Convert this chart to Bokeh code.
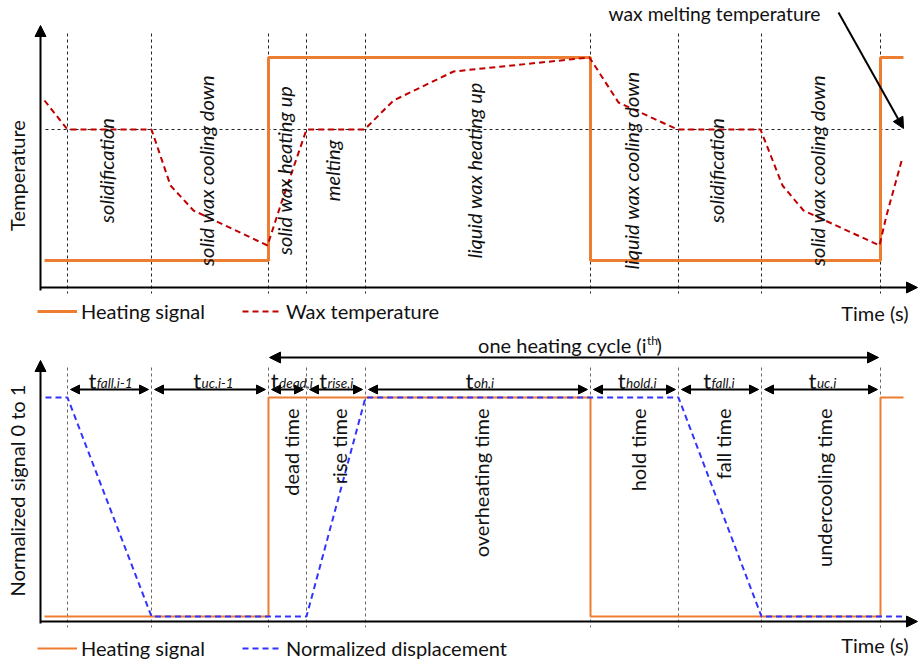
import math
from bokeh.plotting import figure
from bokeh.layouts import column
from bokeh.models import Range1d, Arrow, NormalHead, Label, Legend, LegendItem
from bokeh.core.properties import value
from bokeh.embed import file_html
from bokeh.resources import INLINE

FONT = "Lato"
FS = "20px"

# ---------------- data (schematic, arbitrary units) ----------------
phase_bounds = [2.7, 11.1, 22.8, 26.6, 32.5, 55.0, 63.8, 72.1, 84.0]
heat_switch_t = [0.4, 22.8, 55.0, 84.0, 86.3]
heat_state = [0, 1, 0, 1, 1]
heat_temp_low, heat_temp_high = 2.7, 23.0
melt_temp = 15.8
wax_t = [0.4, 2.7, 11.1, 13.0, 15.3, 22.7, 24.0, 26.6, 32.4, 35.3, 41.3,
         54.9, 57.8, 63.7, 72.0, 74.2, 76.3, 83.9, 84.6, 86.2]
wax_temp = [18.7, 15.8, 15.8, 10.2, 7.7, 4.2, 8.2, 15.8, 15.8, 18.7, 21.6,
            23.0, 18.5, 15.8, 15.8, 10.2, 7.7, 4.2, 7.2, 13.0]
top_phase_labels = ["solidification", "solid wax cooling down", "solid wax heating up",
                    "melting", "liquid wax heating up", "liquid wax cooling down",
                    "solidification", "solid wax cooling down"]
disp_t = [0.5, 2.7, 11.1, 26.6, 32.5, 63.8, 72.1, 86.3]
disp_val = [1, 1, 0, 0, 1, 1, 0, 0]
interval_subs = ["fall,i-1", "uc,i-1", "dead,i", "rise,i", "oh,i", "hold,i", "fall,i", "uc,i"]
interval_names = ["", "", "dead time", "rise time", "overheating time",
                  "hold time", "fall time", "undercooling time"]

# ---------------- helpers ----------------
W = 920
XR = (-4.0, 88.0)          # data units across the full width
PX = (XR[1] - XR[0]) / W   # data units per pixel (x)
intervals = list(zip(phase_bounds[:-1], phase_bounds[1:]))
centers = [(a + b) / 2 for a, b in intervals]


def base_fig(h, yr):
    p = figure(width=W, height=h, x_range=Range1d(*XR), y_range=Range1d(*yr),
               output_backend="svg", toolbar_location=None, min_border=0,
               x_axis_location=None, y_axis_location=None)
    p.grid.visible = False
    p.outline_line_color = None
    p.background_fill_color = "white"
    return p


def head(s=11):
    return NormalHead(size=s, fill_color="black", line_color="black")


def add_legend(p, rend, label, x, y):
    leg = Legend(items=[LegendItem(label=label, renderers=[rend])], location=(x, y),
                 orientation="horizontal", glyph_width=40, glyph_height=20,
                 label_height=20, label_standoff=4, padding=0, margin=0,
                 border_line_color=None, background_fill_alpha=0,
                 label_text_font=FONT, label_text_font_size=FS,
                 label_text_color="#111111")
    p.add_layout(leg)


# ================= TOP PANEL =================
TH = 328
TYR = (-4.1, 28.7)
top = base_fig(TH, TYR)

top.segment(x0=phase_bounds, x1=phase_bounds, y0=[25.4] * 9,
            y1=[-0.6] * 9, line_color="#222222", line_width=1, line_dash="3 3")
top.line(x=[0.5, 86.3], y=[melt_temp, melt_temp], line_color="#222222",
         line_width=1, line_dash="3 3")
r_heat_t = top.step(x=heat_switch_t,
                    y=[heat_temp_high if s else heat_temp_low for s in heat_state],
                    mode="after", line_color="#ED7D31", line_width=3)
r_wax = top.line(x=wax_t, y=wax_temp, line_color="#C00000", line_width=2,
                 line_dash="6 4")
top.add_layout(Arrow(end=head(), x_start=0, y_start=-0.3, x_end=0, y_end=26.2,
                     line_width=2, line_color="black"))
top.add_layout(Arrow(end=head(), x_start=0, y_start=0, x_end=87.7, y_end=0,
                     line_width=2, line_color="black"))
top.text(x=[c - 0.4 for c in centers], y=[11.7] * 8, text=top_phase_labels,
         angle=math.pi / 2, text_align="center", text_baseline="middle",
         text_font=value(FONT), text_font_style="italic", text_font_size=FS,
         text_color="#111111")
top.add_layout(Label(x=-2.4, y=11.2, text="Temperature", angle=math.pi / 2,
                     text_align="center", text_baseline="middle",
                     text_font=FONT, text_font_size=FS, text_color="#111111"))
top.add_layout(Label(x=86.8, y=-2.5, text="Time (s)", text_align="right",
                     text_baseline="middle", text_font=FONT, text_font_size=FS,
                     text_color="#111111"))
top.add_layout(Label(x=67.4, y=27.4, text="wax melting temperature", text_align="center",
                     text_baseline="middle", text_font=FONT, text_font_size="19.3px",
                     text_color="#111111"))
top.add_layout(Arrow(end=head(), x_start=79.8, y_start=27.5, x_end=86.3,
                     y_end=melt_temp + 0.1, line_width=2, line_color="black"))
add_legend(top, r_heat_t, "Heating signal", 37, 5)
add_legend(top, r_wax, "Wax temperature", 242, 5)

# ================= BOTTOM PANEL =================
BH = 336
BYR = (-0.2192, 1.3151)
bot = base_fig(BH, BYR)
ypx_b = (BYR[1] - BYR[0]) / BH

bot.segment(x0=phase_bounds, x1=phase_bounds, y0=[1.137] * 9, y1=[-0.05] * 9,
            line_color="#666666", line_width=1, line_dash="3 3")
r_heat_b = bot.step(x=heat_switch_t, y=heat_state, mode="after",
                    line_color="#ED7D31", line_width=2)
r_disp = bot.line(x=disp_t, y=disp_val, line_color="#3333FF", line_width=2,
                  line_dash="6 4")
bot.add_layout(Arrow(end=head(), x_start=0, y_start=-0.032, x_end=0, y_end=1.169,
                     line_width=2, line_color="black"))
bot.add_layout(Arrow(end=head(), x_start=0, y_start=-0.0228, x_end=87.7, y_end=-0.0228,
                     line_width=2, line_color="black"))

arrow_y = 1.0365
gap = 0.3
for (a, b), sub, c in zip(intervals, interval_subs, centers):
    bot.add_layout(Arrow(start=head(9), end=head(9),
                         x_start=a + gap, y_start=arrow_y, x_end=b - gap, y_end=arrow_y,
                         line_width=2, line_color="black"))
    t_w, sub_w = 8.0, 4.3 * len(sub)
    joint = c + (t_w - sub_w) / 2 * PX
    bot.add_layout(Label(x=joint, y=1.0776, text="t", text_align="right",
                         text_baseline="alphabetic", text_font=FONT,
                         text_font_size="22px", text_color="#111111"))
    bot.add_layout(Label(x=joint + 0.05, y=1.0776 - 2 * ypx_b, text=sub,
                         text_align="left", text_baseline="alphabetic", text_font=FONT,
                         text_font_style="italic", text_font_size="13.5px",
                         text_color="#111111"))

cyc_a, cyc_b = phase_bounds[2], phase_bounds[8]
bot.add_layout(Arrow(start=head(), end=head(),
                     x_start=cyc_a + 0.1, y_start=1.1826, x_end=cyc_b - 0.2, y_end=1.1826,
                     line_width=2, line_color="black"))
cyc_c = (cyc_a + cyc_b) / 2
jx = cyc_c + 7.2
bot.add_layout(Label(x=jx, y=1.242, text="one heating cycle (i", text_align="right",
                     text_baseline="middle", text_font=FONT, text_font_size=FS,
                     text_color="#111111"))
bot.add_layout(Label(x=jx + 0.05, y=1.242 + 4 * ypx_b, text="th", text_align="left",
                     text_baseline="middle", text_font=FONT, text_font_size="12px",
                     text_color="#111111"))
bot.add_layout(Label(x=jx + 1.0, y=1.242, text=")", text_align="left",
                     text_baseline="middle", text_font=FONT, text_font_size=FS,
                     text_color="#111111"))

nx = [c + 0.3 for c, n in zip(centers, interval_names) if n]
nt = [n for n in interval_names if n]
bot.text(x=nx, y=[0.95] * len(nt), text=nt, angle=math.pi / 2, text_align="right",
         text_baseline="middle", text_font=value(FONT), text_font_size=FS,
         text_color="#111111")

bot.add_layout(Label(x=-2.4, y=0.575, text="Normalized signal 0 to 1", angle=math.pi / 2,
                     text_align="center", text_baseline="middle", text_font=FONT,
                     text_font_size=FS, text_color="#111111"))
bot.add_layout(Label(x=86.8, y=-0.1324, text="Time (s)", text_align="right",
                     text_baseline="middle", text_font=FONT, text_font_size=FS,
                     text_color="#111111"))
add_legend(bot, r_heat_b, "Heating signal", 37, 4)
add_legend(bot, r_disp, "Normalized displacement", 242, 4)

layout = column(top, bot, spacing=0)
open("out.html", "w").write(file_html(layout, INLINE))
